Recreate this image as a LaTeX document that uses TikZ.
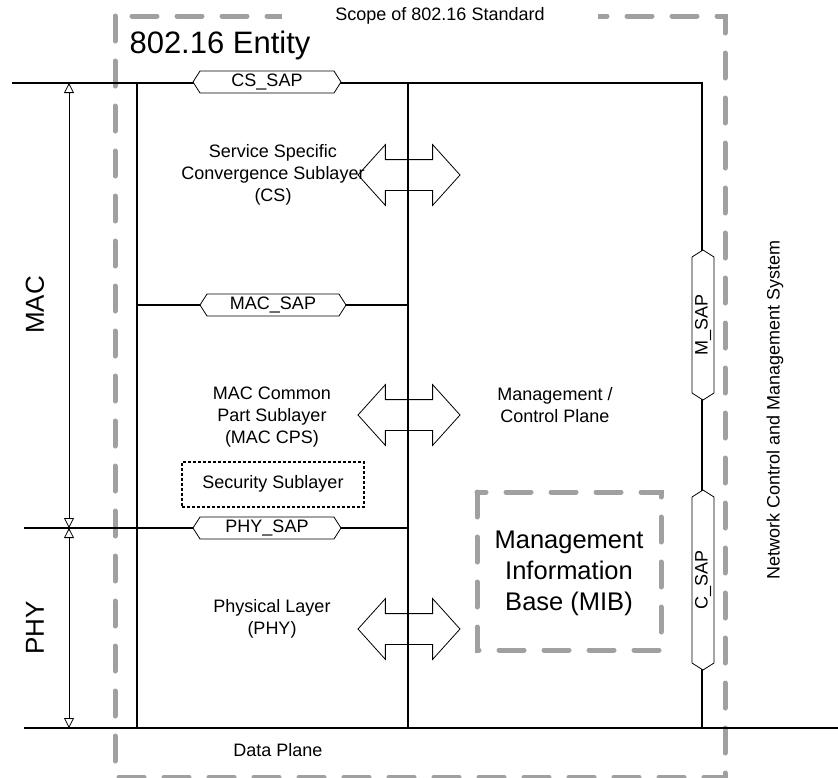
\documentclass[tikz,border=0pt]{standalone}
\usepackage{fontspec}
\setmainfont{Liberation Sans}
\usetikzlibrary{arrows.meta,shapes.symbols,shapes.arrows}

\definecolor{scopegray}{RGB}{160,160,160}

\newcommand{\fs}[1]{\fontsize{#1}{1.22\dimexpr #1pt\relax}\selectfont}

\begin{document}
\begin{tikzpicture}[x=1pt,y=-1pt]
\tikzset{
  plane/.style={line width=2.4pt},
  scope/.style={draw=scopegray, line width=5pt, line cap=round, dash pattern=on 25pt off 20pt},
  sap/.style={signal, signal to=east and west, signal pointer angle=115, draw, fill=white,
    line width=0.8pt, minimum width=148pt, minimum height=22pt, inner sep=0pt, font=\fs{18}},
  duplex/.style={double arrow, draw, line width=0.8pt, minimum height=102pt,
    double arrow head extend=15pt, inner xsep=0pt, inner ysep=15pt, double arrow tip angle=96},
  every node/.style={font=\fs{18}, align=center},
  dim/.style={line width=0.8pt, {Triangle[open,length=10pt,width=10pt]}-{Triangle[open,length=10pt,width=10pt]}}
}
\useasboundingbox (0,0) rectangle (838,777);

% scope of the standard
\draw[scope] (115,16) rectangle (725,777);
\node (scopelbl) [fill=white, minimum width=316pt, inner ysep=4pt] at (440,16) {Scope of 802.16 Standard};
\node (entity) [anchor=west, font=\fs{31}] at (126,45) {802.16 Entity};

% plane corners
\coordinate (tl) at (12,83);
\coordinate (tr) at (702,83);
\coordinate (br) at (702,728);
\coordinate (bl) at (24,728);
\coordinate (be) at (838,728);
\coordinate (lt) at (137,83);
\coordinate (lb) at (137,728);
\coordinate (mt) at (408,83);
\coordinate (mb) at (408,728);
\coordinate (macl) at (137,305);
\coordinate (macr) at (408,305);
\coordinate (phyl) at (24,528);
\coordinate (phyr) at (408,528);

\draw[plane] (tl) -- (tr) -- (br);
\draw[plane] (bl) -- (be);
\draw[plane] (lt) -- (lb);
\draw[plane] (mt) -- (mb);
\draw[plane] (macl) -- (macr);
\draw[plane] (phyl) -- (phyr);

% MAC / PHY extent
\coordinate (dt) at (69,83);
\coordinate (dm) at (69,528);
\coordinate (db) at (69,728);
\draw[dim] (dt) -- (dm);
\draw[dim] (dm) -- (db);
\node (maclbl) [rotate=90, font=\fs{26}] at (35,305) {MAC};
\node (phylbl) [rotate=90, font=\fs{26}] at (35,628) {PHY};

% service access points
\node (cssap) [sap] at (267,82) {CS\_SAP};
\node (macsap) [sap, minimum width=146pt] at (273,305) {MAC\_SAP};
\node (physap) [sap] at (267,528) {PHY\_SAP};
\node (msap) [sap, rotate=90, minimum width=150pt] at (703,325) {M\_SAP};
\node (csap) [sap, rotate=90, minimum width=180pt] at (703,580) {C\_SAP};

% sublayers
\node (csarrow) [duplex] at (409,175) {};
\node (macarrow) [duplex] at (409,415) {};
\node (phyarrow) [duplex] at (409,629) {};
\node (cstext) at (273,175) {Service Specific\\Convergence Sublayer\\(CS)};
\node (cpstext) at (272,417) {MAC Common\\Part Sublayer\\(MAC CPS)};
\node (phytext) at (272,619) {Physical Layer\\(PHY)};
\node (security) [draw, line width=2pt, dash pattern=on 3pt off 2pt, minimum width=182pt, minimum height=45pt] at (273,484) {Security Sublayer};

% management side
\node (mgmt) at (555,405) {Management /\\Control Plane};
\draw[scope] (477,492) rectangle (661,650);
\node (mib) [font=\fs{25.5}, text depth=0pt] at (569,571) {Management\\Information\\Base (MIB)};
\node (nms) [rotate=90] at (775,410) {Network Control and Management System};
\node (data) at (278,750) {Data Plane};
\end{tikzpicture}
\end{document}
